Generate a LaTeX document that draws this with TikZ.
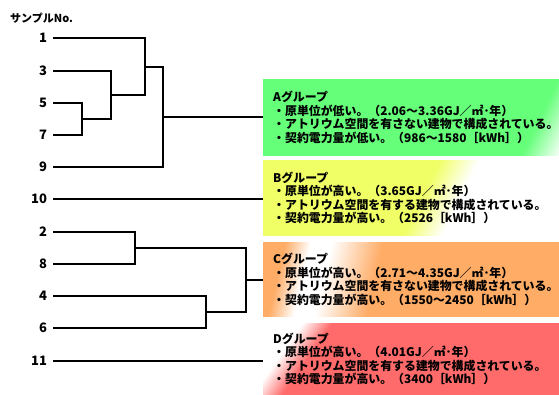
\documentclass[tikz,border=0pt]{standalone}
\usepackage{fontspec}
\newfontfamily\jp{Noto Sans CJK JP}
\definecolor{grpA}{RGB}{102,255,122}
\definecolor{grpB}{RGB}{240,255,102}
\definecolor{grpC}{RGB}{255,172,102}
\definecolor{grpD}{RGB}{255,107,107}
\pgfdeclarehorizontalshading{shadeA}{100bp}{color(0bp)=(grpA); color(76bp)=(grpA); color(84bp)=(white); color(100bp)=(white)}
\pgfdeclarehorizontalshading{shadeB}{100bp}{color(0bp)=(grpB); color(52bp)=(grpB); color(60bp)=(white); color(100bp)=(white)}
\pgfdeclarehorizontalshading{shadeC}{100bp}{color(0bp)=(grpC); color(24bp)=(grpC); color(29bp)=(white); color(33bp)=(white); color(43bp)=(grpC); color(100bp)=(grpC)}
\pgfdeclarehorizontalshading{shadeD}{100bp}{color(0bp)=(grpD); color(71bp)=(grpD); color(77bp)=(white); color(100bp)=(white)}
\begin{document}
\begin{tikzpicture}[x=1pt, y=-1pt,
        link/.style={line width=1.5pt},
        every label/.style={font=\jp\bfseries\fontsize{13}{13}\selectfont},
        label distance=2.5pt,
        grp/.style={anchor=north west, shade, minimum width=296pt, inner sep=0pt},
        note/.style={anchor=west, align=left, inner sep=0pt, font=\jp\bfseries\fontsize{11.9}{13.5}\selectfont}]
            \useasboundingbox (0,0) rectangle (559,394);

            \node[anchor=west, inner sep=0pt, font=\jp\bfseries\fontsize{11}{11}\selectfont] (T) at (10,18) {サンプルNo.};

            \coordinate[label=left:1] (L1) at (53,38);
            \coordinate[label=left:3] (L3) at (53,71);
            \coordinate[label=left:5] (L5) at (53,103);
            \coordinate[label=left:7] (L7) at (53,135);
            \coordinate[label=left:9] (L9) at (53,167);
            \coordinate[label=left:10] (L10) at (53,199);
            \coordinate[label=left:2] (L2) at (53,232);
            \coordinate[label=left:8] (L8) at (53,264);
            \coordinate[label=left:4] (L4) at (53,296);
            \coordinate[label=left:6] (L6) at (53,328);
            \coordinate[label=left:11] (L11) at (53,361);

            \coordinate (M57) at (82,119);
            \coordinate (M357) at (111,95);
            \coordinate (M1357) at (145,67);
            \coordinate (MA) at (163,117);
            \coordinate (M28) at (135,248);
            \coordinate (M46) at (206,312);
            \coordinate (MC) at (246,280);

            \node[grp, shading=shadeA, shading angle=-26, minimum height=76pt] (A) at (263,79) {};
            \node[grp, shading=shadeB, shading angle=-26, minimum height=75pt] (B) at (263,160) {};
            \node[grp, shading=shadeC, shading angle=-13, minimum height=74.5pt] (C) at (263,242) {};
            \node[grp, shading=shadeD, shading angle=145, minimum height=71pt] (D) at (263,323) {};

            \node[note] (At) at ([xshift=10pt]A.west) {Aグループ\\・原単位が低い。（2.06～3.36GJ／㎡･年）\\・アトリウム空間を有さない建物で構成されている。\\・契約電力量が低い。（986～1580［kWh］）};
            \node[note] (Bt) at ([xshift=10pt]B.west) {Bグループ\\・原単位が高い。（3.65GJ／㎡･年）\\・アトリウム空間を有する建物で構成されている。\\・契約電力量が高い。（2526［kWh］）};
            \node[note] (Ct) at ([xshift=10pt]C.west) {Cグループ\\・原単位が高い。（2.71～4.35GJ／㎡･年）\\・アトリウム空間を有さない建物で構成されている。\\・契約電力量が高い。（1550～2450［kWh］）};
            \node[note] (Dt) at ([xshift=10pt]D.west) {Dグループ\\・原単位が高い。（4.01GJ／㎡･年）\\・アトリウム空間を有する建物で構成されている。\\・契約電力量が高い。（3400［kWh］）};

            \draw[link] (L5) -| (M57) |- (L7);
            \draw[link] (L3) -| (M357) |- (M57);
            \draw[link] (L1) -| (M1357) |- (M357);
            \draw[link] (M1357) -| (MA) |- (L9);
            \draw[link] (MA) -- (MA -| A.west);
            \draw[link] (L10) -- (L10 -| B.west);
            \draw[link] (L2) -| (M28) |- (L8);
            \draw[link] (L4) -| (M46) |- (L6);
            \draw[link] (M28) -| (MC) |- (M46);
            \draw[link] (MC) -- (MC -| C.west);
            \draw[link] (L11) -- (L11 -| D.west);
        \end{tikzpicture}
\end{document}
